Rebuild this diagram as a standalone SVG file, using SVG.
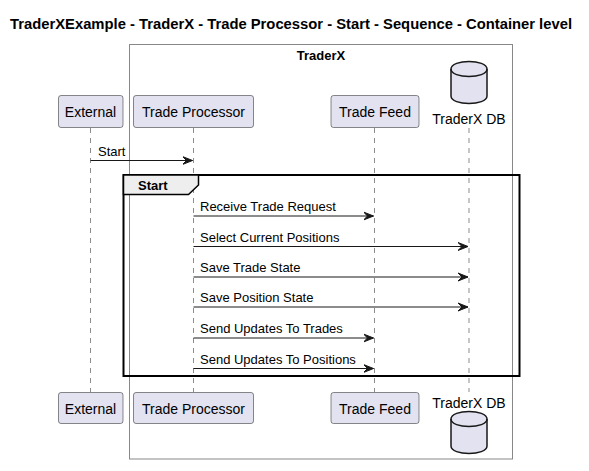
<svg xmlns="http://www.w3.org/2000/svg" width="589" height="471" viewBox="0 0 589 471">
<style>
text{font-family:"Liberation Sans",Arial,sans-serif;fill:#000}
.title{font-size:14.5px;font-weight:bold}
.lbl{font-size:14px}
.msg{font-size:13px}
.box{fill:#E2E2F0;stroke:#181818;stroke-width:0.5}
.life{stroke:#181818;stroke-width:0.5;stroke-dasharray:5,5;fill:none}
.line{stroke:#181818;stroke-width:1;fill:none}
.db{fill:#E2E2F0;stroke:#181818;stroke-width:1.5}
</style>
<defs>
<marker id="arr" markerWidth="12" markerHeight="10" viewBox="0 0 12 10" refX="10" refY="5" orient="auto" markerUnits="userSpaceOnUse">
<polygon points="0,1 10,5 0,9 4,5" fill="#181818" stroke="#181818" stroke-width="1"/>
</marker>
</defs>
<rect width="589" height="471" fill="#FFFFFF"/>
<text class="title" x="10" y="29" textLength="562" lengthAdjust="spacingAndGlyphs">TraderXExample - TraderX - Trade Processor - Start - Sequence - Container level</text>
<g id="boundary-traderx">
<rect x="129.5" y="44.5" width="383" height="414.5" fill="none" stroke="#888888" stroke-width="1"/>
<text x="321" y="60" text-anchor="middle" style="font-size:13px;font-weight:bold">TraderX</text>
</g>
<g id="lifelines">
<line class="life" x1="90.5" y1="128" x2="90.5" y2="392"/>
<line class="life" x1="193.5" y1="128" x2="193.5" y2="392"/>
<line class="life" x1="374.5" y1="128" x2="374.5" y2="392"/>
<line class="life" x1="469" y1="128" x2="469" y2="392"/>
</g>
<g id="external">
<rect class="box" x="58.5" y="95.5" width="64.5" height="32" rx="2.5"/>
<text class="lbl" x="90.5" y="116.5" text-anchor="middle">External</text>
<rect class="box" x="58.5" y="392.5" width="64.5" height="31" rx="2.5"/>
<text class="lbl" x="90.5" y="413.5" text-anchor="middle">External</text>
</g>
<g id="trade-processor">
<rect class="box" x="133.5" y="95.5" width="120" height="32" rx="2.5"/>
<text class="lbl" x="193.5" y="116.5" text-anchor="middle">Trade Processor</text>
<rect class="box" x="133.5" y="392.5" width="120" height="31" rx="2.5"/>
<text class="lbl" x="193.5" y="413.5" text-anchor="middle">Trade Processor</text>
</g>
<g id="trade-feed">
<rect class="box" x="331" y="95.5" width="88" height="32" rx="2.5"/>
<text class="lbl" x="375" y="116.5" text-anchor="middle">Trade Feed</text>
<rect class="box" x="331" y="392.5" width="88" height="31" rx="2.5"/>
<text class="lbl" x="375" y="413.5" text-anchor="middle">Trade Feed</text>
</g>
<g id="traderx-db">
<path class="db" d="M451,69 C451,59 487,59 487,69 L487,96 C487,106 451,106 451,96 Z"/>
<path class="db" d="M451,69 C451,79 487,79 487,69" style="fill:none"/>
<text class="lbl" x="469" y="123.5" text-anchor="middle">TraderX DB</text>
<path class="db" d="M451,419 C451,409 487,409 487,419 L487,446 C487,456 451,456 451,446 Z"/>
<path class="db" d="M451,419 C451,429 487,429 487,419" style="fill:none"/>
<text class="lbl" x="469" y="407.5" text-anchor="middle">TraderX DB</text>
</g>
<g id="group-start">
<rect x="123.5" y="175" width="396" height="201" fill="none" stroke="#000000" stroke-width="2"/>
<polygon points="123.5,175 198.5,175 198.5,185 188.5,194.5 123.5,194.5" fill="#EEEEEE" stroke="#000000" stroke-width="1.5"/>
<text x="138" y="189.5" style="font-size:13px;font-weight:bold">Start</text>
</g>
<g id="connectors">
<line class="line" x1="90.5" y1="160.5" x2="192.5" y2="160.5" marker-end="url(#arr)"/>
<text class="msg" x="98" y="155.5">Start</text>
<line class="line" x1="193.5" y1="216" x2="373.5" y2="216" marker-end="url(#arr)"/>
<text class="msg" x="200" y="211">Receive Trade Request</text>
<line class="line" x1="193.5" y1="246.5" x2="468" y2="246.5" marker-end="url(#arr)"/>
<text class="msg" x="200" y="241.5">Select Current Positions</text>
<line class="line" x1="193.5" y1="277" x2="468" y2="277" marker-end="url(#arr)"/>
<text class="msg" x="200" y="272">Save Trade State</text>
<line class="line" x1="193.5" y1="307" x2="468" y2="307" marker-end="url(#arr)"/>
<text class="msg" x="200" y="302">Save Position State</text>
<line class="line" x1="193.5" y1="338" x2="373.5" y2="338" marker-end="url(#arr)"/>
<text class="msg" x="200" y="333">Send Updates To Trades</text>
<line class="line" x1="193.5" y1="368.5" x2="373.5" y2="368.5" marker-end="url(#arr)"/>
<text class="msg" x="200" y="363.5">Send Updates To Positions</text>
</g>
</svg>
